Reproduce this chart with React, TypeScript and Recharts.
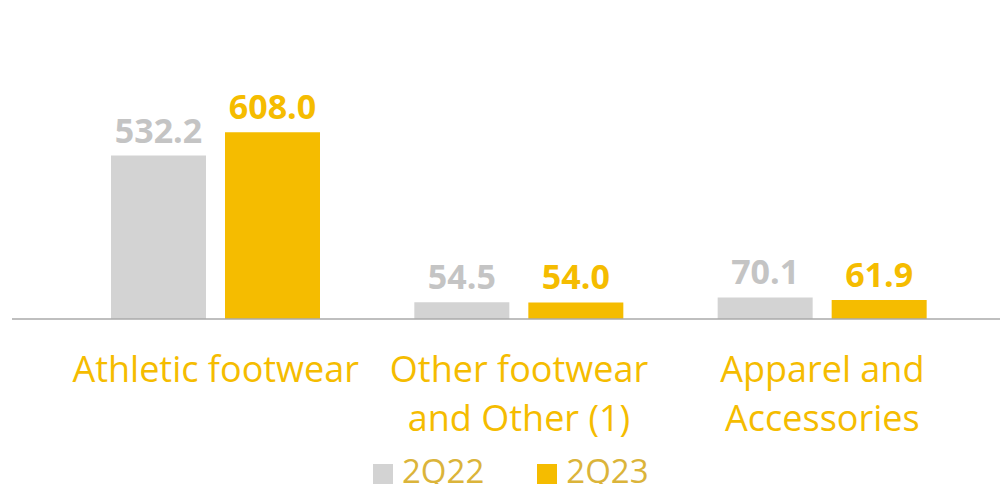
import * as React from "react"
import { BarChart, Bar, XAxis, YAxis, LabelList, Legend } from "recharts"

const categories = ["Athletic footwear", "Other footwear\nand Other (1)", "Apparel and\nAccessories"]
const sales2Q22 = [532.2, 54.5, 70.1]
const sales2Q23 = [608.0, 54.0, 61.9]
const seriesNames = ["2Q22", "2Q23"]

const GREY = "#d3d3d3"
const GREY_LABEL = "#c4c4c4"
const YELLOW = "#f5bc00"
const GOLD = "#dbb43a"
const FONT = "'Open Sans', sans-serif"

const data = categories.map((name, i) => ({
  name,
  a: sales2Q22[i],
  b: sales2Q23[i],
}))

function CategoryTick({ x, y, payload }: any) {
  const lines = String(payload.value).split("\n")
  return (
    <text x={x} y={y + 63} textAnchor="middle" fill={YELLOW} fontFamily={FONT} fontSize={36}>
      {lines.map((line, i) => (
        <tspan key={i} x={x} dy={i === 0 ? 0 : 49}>
          {line}
        </tspan>
      ))}
    </text>
  )
}

function LegendContent() {
  const colors = [GREY, YELLOW]
  return (
    <div style={{ display: "flex", alignItems: "flex-start", fontFamily: FONT, fontSize: 33, lineHeight: 1, color: GOLD }}>
      {seriesNames.map((s, i) => (
        <div key={s} style={{ display: "flex", alignItems: "flex-start", marginRight: 53 }}>
          <span style={{ width: 20, height: 20, background: colors[i], marginTop: 10, marginRight: 9 }} />
          <span>{s}</span>
        </div>
      ))}
    </div>
  )
}

export default function App() {
  const fmt = (v: any) => Number(v).toFixed(1)
  return (
    <div style={{ position: "absolute", left: 0, top: 0, width: 1000, height: 484, overflow: "hidden", background: "#fff" }}>
      <BarChart
        width={1000}
        height={484}
        data={data}
        margin={{ top: 104, right: 0, left: 12, bottom: 0 }}
        barSize={95}
        barGap={19}
      >
        <XAxis
          dataKey="name"
          height={165}
          padding={{ left: 52, right: 26 }}
          axisLine={{ stroke: "#aaaaaa", strokeWidth: 1.5 }}
          tickLine={false}
          tickSize={0}
          tickMargin={0}
          interval={0}
          tick={<CategoryTick />}
        />
        <YAxis hide domain={[0, 700]} />
        <Legend
          layout="horizontal"
          verticalAlign="middle"
          align="center"
          wrapperStyle={{ top: 454, left: 373, width: 400 }}
          content={<LegendContent />}
        />
        <Bar dataKey="a" name={seriesNames[0]} fill={GREY} isAnimationActive={false}>
          <LabelList dataKey="a" position="top" offset={13} formatter={fmt} fill={GREY_LABEL} fontFamily={FONT} fontWeight={700} fontSize={34} />
        </Bar>
        <Bar dataKey="b" name={seriesNames[1]} fill={YELLOW} isAnimationActive={false}>
          <LabelList dataKey="b" position="top" offset={13} formatter={fmt} fill={YELLOW} fontFamily={FONT} fontWeight={700} fontSize={34} />
        </Bar>
      </BarChart>
    </div>
  )
}
